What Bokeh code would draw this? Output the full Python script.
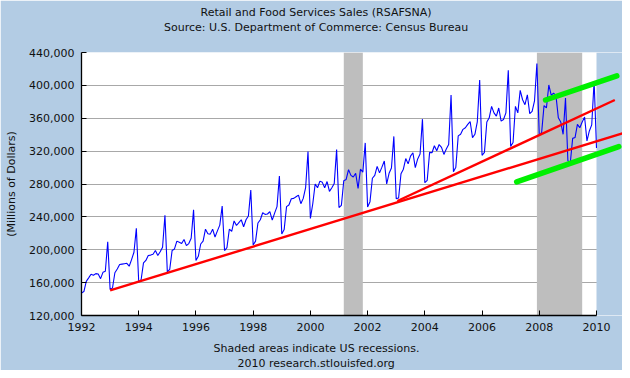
from bokeh.plotting import figure
from bokeh.models import Range1d, FixedTicker, NumeralTickFormatter, Title
from bokeh.embed import file_html
from bokeh.resources import INLINE

# ---------------- data (millions of dollars, monthly, not seasonally adjusted) ----------------
sales_1992 = [147400, 149200, 161500, 165800, 170200, 169000, 171000, 170500, 164800, 172500, 173800, 209800]
sales_1993 = [151800, 153500, 172000, 176500, 182000, 182500, 183000, 183500, 180000, 188000, 197000, 226000]
sales_1994 = [160700, 163500, 184000, 187000, 193000, 193500, 194500, 199000, 193000, 197500, 203000, 242000]
sales_1995 = [173000, 176000, 199000, 201000, 210500, 209000, 207500, 212500, 205000, 207500, 214000, 248500]
sales_1996 = [187000, 192000, 207000, 210500, 225000, 219500, 219000, 225000, 215500, 223000, 230000, 253300]
sales_1997 = [199000, 202500, 225000, 222500, 235000, 229500, 233000, 236500, 228000, 236500, 241000, 272600]
sales_1998 = [205800, 210500, 232500, 236500, 245000, 243000, 243500, 246500, 236000, 244500, 252500, 289600]
sales_1999 = [219100, 224500, 252500, 254500, 262000, 262500, 264500, 266500, 256000, 262500, 275500, 319400]
sales_2000 = [238100, 256000, 280000, 275500, 283500, 282000, 275500, 283000, 271000, 275500, 280500, 321800]
sales_2001 = [251400, 254000, 284000, 285500, 297500, 290500, 288500, 293000, 274500, 298000, 294500, 330000]
sales_2002 = [252000, 258500, 287000, 290500, 301500, 293500, 300500, 308000, 280000, 293000, 299500, 337900]
sales_2003 = [262200, 263000, 292500, 298000, 311000, 304500, 314000, 318000, 300000, 310500, 316500, 358900]
sales_2004 = [281600, 284500, 318500, 318000, 326500, 320500, 328000, 324500, 316000, 322500, 328000, 388300]
sales_2005 = [294900, 300500, 338500, 340500, 346500, 348500, 352500, 356000, 336500, 340500, 355500, 406400]
sales_2006 = [314900, 318500, 355500, 360500, 374500, 366500, 362500, 372500, 356500, 358500, 366500, 418500]
sales_2007 = [325800, 330500, 374500, 366500, 394000, 382500, 376500, 388500, 365500, 368500, 381000, 426600]
sales_2008 = [339000, 343000, 375500, 372500, 400500, 388000, 390500, 387500, 360500, 355500, 340500, 384500]
sales_2009 = [308500, 305500, 335500, 336500, 352500, 348500, 355500, 361500, 332500, 344500, 352000, 405200]
sales_2010 = [323900]

first_year = 1992

# recessions (decimal years)
recession_start = [2001.167, 2007.917]
recession_end = [2001.833, 2009.5]

# hand-drawn trend lines (decimal years, millions of dollars)
red_low_x = [1993.0, 2011.3]
red_low_y = [150500, 345800]
red_up_x = [2003.04, 2010.64]
red_up_y = [259300, 382200]
green_up_x = [2008.22, 2010.71]
green_up_y = [382200, 411600]
green_low_x = [2007.21, 2010.78]
green_low_y = [282500, 325400]

# ticks and texts
x_ticks = [1992, 1994, 1996, 1998, 2000, 2002, 2004, 2006, 2008, 2010]
y_ticks = [120000, 160000, 200000, 240000, 280000, 320000, 360000, 400000, 440000]
title_text = "Retail and Food Services Sales (RSAFSNA)"
subtitle_text = "Source: U.S. Department of Commerce: Census Bureau"
note_text = "Shaded areas indicate US recessions."
credit_text = "2010 research.stlouisfed.org"
y_label = "(Millions of Dollars)"

# ---------------- assemble series ----------------
sales = (sales_1992 + sales_1993 + sales_1994 + sales_1995 + sales_1996 + sales_1997 +
         sales_1998 + sales_1999 + sales_2000 + sales_2001 + sales_2002 + sales_2003 +
         sales_2004 + sales_2005 + sales_2006 + sales_2007 + sales_2008 + sales_2009 + sales_2010)
dates = [first_year + i / 12.0 for i in range(len(sales))]

# ---------------- layout ----------------
BG = "#B3CCE4"
FONT = "DejaVu Sans"
TXT = "#111111"
W, H = 622, 370
LEFT, TOP, BOTTOM = 81, 52, 54
x2010_px = 596.0
px_per_year = (x2010_px - LEFT) / 18.0
x_end = 1992 + (W - LEFT) / px_per_year
y0, y1 = y_ticks[0], y_ticks[-1]

p = figure(width=W, height=H, output_backend="svg", toolbar_location=None,
           x_range=Range1d(1992, x_end), y_range=Range1d(y0, y1),
           min_border_left=LEFT, min_border_top=TOP, min_border_bottom=BOTTOM,
           min_border_right=0, background_fill_color="white",
           border_fill_color=BG, outline_line_color=None)

# grid
p.xgrid.visible = False
p.ygrid.ticker = FixedTicker(ticks=y_ticks)
p.ygrid.grid_line_color = "#A8A8A8"
p.ygrid.grid_line_width = 1

# cover the region right of 2010 with background colour
p.quad(left=[2010.0], right=[x_end + 1], bottom=[y0], top=[y1],
       fill_color=BG, line_color=None)

# recession shading
p.quad(left=recession_start, right=recession_end, bottom=y0, top=y1,
       fill_color="#BEBEBE", line_color=None)

# series
p.line(dates, sales, line_color="#0000FF", line_width=1.1)

# trend lines
p.line(red_low_x, red_low_y, line_color="#FF0000", line_width=2.4)
p.line(red_up_x, red_up_y, line_color="#FF0000", line_width=2.4)
p.line(green_up_x, green_up_y, line_color="#00F000", line_width=5.5, line_cap="round")
p.line(green_low_x, green_low_y, line_color="#00F000", line_width=5.5, line_cap="round")

# axes
for ax in (p.xaxis[0], p.yaxis[0]):
    ax.axis_line_color = "black"
    ax.axis_line_width = 1.3
    ax.major_tick_line_color = "black"
    ax.major_tick_in = 5
    ax.major_tick_out = 0
    ax.minor_tick_line_color = None
    ax.major_label_text_font = FONT
    ax.major_label_text_font_size = "11px"
    ax.major_label_text_color = TXT

p.xaxis.ticker = FixedTicker(ticks=x_ticks)
p.xaxis.bounds = (1992, 2010)
p.xaxis.major_label_standoff = 7
# invisible tiny axis label, used only to add a little room under the tick labels
p.xaxis.axis_label = " "
p.xaxis.axis_label_text_font_size = "1px"
p.xaxis.axis_label_standoff = 3

p.yaxis.ticker = FixedTicker(ticks=y_ticks)
p.yaxis.formatter = NumeralTickFormatter(format="0,0")
p.yaxis.major_label_standoff = 7
p.yaxis.axis_label = y_label
p.yaxis.axis_label_text_font = FONT
p.yaxis.axis_label_text_font_size = "11px"
p.yaxis.axis_label_text_font_style = "normal"
p.yaxis.axis_label_text_color = TXT
p.yaxis.axis_label_standoff = 8

# texts: titles are positioned by their left edge (offset from the frame's left side)
CENTER = 316


def make_title(txt, width_px, standoff=0):
    return Title(text=txt, align="left", offset=CENTER - width_px / 2 - LEFT,
                 vertical_align="middle", standoff=standoff, text_font=FONT,
                 text_font_size="11px", text_font_style="normal", text_color=TXT)


# above: first added is nearest the frame
p.add_layout(Title(text=" ", text_font_size="11px", standoff=4), "above")
p.add_layout(make_title(subtitle_text, 305), "above")
p.add_layout(make_title(title_text, 232), "above")
# below: after the x axis
p.add_layout(make_title(note_text, 206), "below")
p.add_layout(make_title(credit_text, 158), "below")

open("out.html", "w").write(file_html(p, INLINE))
